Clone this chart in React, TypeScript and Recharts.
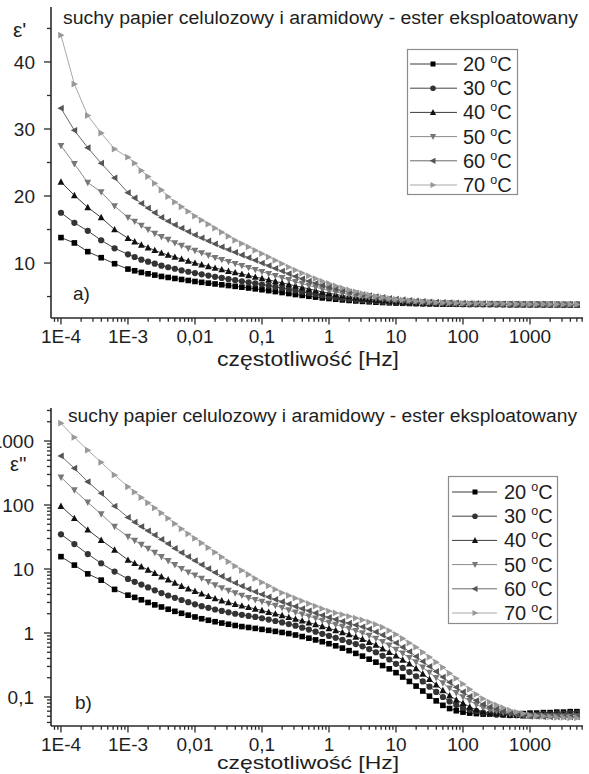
import React from 'react';
import { LineChart, Line, XAxis, YAxis, Legend } from 'recharts';

// ---------------- data ----------------
const freq = [
  0.0001, 0.0001585, 0.0002512, 0.0003981, 0.000631,
  0.001, 0.001259, 0.001585, 0.001995, 0.002512, 0.003162, 0.003981, 0.005012, 0.00631, 0.007943,
  0.01, 0.01259, 0.01585, 0.01995, 0.02512, 0.03162, 0.03981, 0.05012, 0.0631, 0.07943,
  0.1, 0.1259, 0.1585, 0.1995, 0.2512, 0.3162, 0.3981, 0.5012, 0.631, 0.7943,
  1, 1.259, 1.585, 1.995, 2.512, 3.162, 3.981, 5.012, 6.31, 7.943,
  10, 12.59, 15.85, 19.95, 25.12, 31.62, 39.81, 50.12, 63.1, 79.43,
  100, 125.9, 158.5, 199.5, 251.2, 316.2, 398.1, 501.2, 631, 794.3,
  1000, 1259, 1585, 1995, 2512, 3162, 3981, 5012,
];

// epsilon' (real part)
const epsReal20 = [
  13.8, 13.0, 11.7, 10.8, 9.9,
  9.1, 8.85, 8.6, 8.4, 8.2, 8.0, 7.85, 7.7, 7.55, 7.4,
  7.25, 7.12, 7.0, 6.88, 6.76, 6.64, 6.52, 6.4, 6.28, 6.15,
  6.02, 5.88, 5.74, 5.6, 5.45, 5.3, 5.17, 5.04, 4.92, 4.8,
  4.7, 4.6, 4.5, 4.42, 4.35, 4.28, 4.22, 4.16, 4.11, 4.07,
  4.03, 4.0, 3.97, 3.95, 3.93, 3.91, 3.9, 3.88, 3.87, 3.86,
  3.85, 3.84, 3.84, 3.83, 3.83, 3.82, 3.82, 3.81, 3.81, 3.8,
  3.8, 3.8, 3.79, 3.79, 3.79, 3.78, 3.78, 3.78,
];
const epsReal30 = [
  17.5, 16.0, 14.8, 13.4, 12.2,
  11.3, 10.9, 10.5, 10.2, 9.9, 9.6, 9.37, 9.15, 8.9, 8.7,
  8.5, 8.32, 8.13, 7.95, 7.78, 7.6, 7.44, 7.28, 7.12, 6.96,
  6.8, 6.62, 6.44, 6.26, 6.08, 5.9, 5.7, 5.52, 5.34, 5.17,
  5.0, 4.86, 4.74, 4.63, 4.54, 4.45, 4.37, 4.3, 4.23, 4.17,
  4.12, 4.08, 4.04, 4.01, 3.98, 3.95, 3.93, 3.91, 3.9, 3.88,
  3.87, 3.86, 3.85, 3.85, 3.84, 3.84, 3.83, 3.83, 3.82, 3.82,
  3.81, 3.81, 3.8, 3.8, 3.8, 3.79, 3.79, 3.79,
];
const epsReal40 = [
  22.1, 20.1, 18.3, 16.8, 15.0,
  13.7, 13.2, 12.7, 12.3, 11.9, 11.5, 11.2, 10.9, 10.6, 10.3,
  10.0, 9.75, 9.5, 9.26, 9.03, 8.8, 8.58, 8.36, 8.14, 7.92,
  7.7, 7.48, 7.26, 7.04, 6.82, 6.6, 6.37, 6.14, 5.92, 5.7,
  5.5, 5.32, 5.15, 5.0, 4.85, 4.72, 4.61, 4.5, 4.41, 4.33,
  4.25, 4.19, 4.13, 4.08, 4.04, 4.0, 3.98, 3.95, 3.93, 3.91,
  3.9, 3.89, 3.88, 3.87, 3.86, 3.86, 3.85, 3.84, 3.84, 3.83,
  3.83, 3.82, 3.82, 3.81, 3.81, 3.8, 3.8, 3.8,
];
const epsReal50 = [
  27.5, 24.8, 22.0, 20.6, 18.5,
  16.8, 16.2, 15.6, 15.0, 14.4, 13.9, 13.5, 13.0, 12.6, 12.2,
  11.85, 11.5, 11.15, 10.8, 10.5, 10.2, 9.9, 9.6, 9.3, 9.0,
  8.7, 8.4, 8.1, 7.8, 7.5, 7.2, 6.93, 6.66, 6.4, 6.15,
  5.9, 5.68, 5.48, 5.3, 5.14, 5.0, 4.86, 4.74, 4.62, 4.51,
  4.42, 4.34, 4.27, 4.2, 4.14, 4.09, 4.05, 4.01, 3.98, 3.95,
  3.93, 3.92, 3.91, 3.9, 3.89, 3.88, 3.87, 3.86, 3.86, 3.85,
  3.84, 3.84, 3.83, 3.83, 3.82, 3.82, 3.81, 3.81,
];
const epsReal60 = [
  33.1, 29.8, 27.2, 24.9, 22.7,
  20.5, 19.7, 18.9, 18.2, 17.5, 16.8, 16.25, 15.7, 15.2, 14.7,
  14.2, 13.75, 13.3, 12.85, 12.4, 12.0, 11.6, 11.2, 10.8, 10.4,
  10.0, 9.6, 9.2, 8.8, 8.4, 8.0, 7.65, 7.3, 6.98, 6.68,
  6.4, 6.15, 5.92, 5.7, 5.5, 5.3, 5.15, 5.0, 4.87, 4.74,
  4.62, 4.52, 4.43, 4.35, 4.28, 4.22, 4.17, 4.12, 4.08, 4.04,
  4.0, 3.98, 3.96, 3.95, 3.93, 3.92, 3.91, 3.9, 3.89, 3.88,
  3.87, 3.86, 3.85, 3.85, 3.84, 3.83, 3.83, 3.82,
];
const epsReal70 = [
  44.0, 36.7, 32.0, 29.4, 27.0,
  25.8, 24.9, 23.8, 22.9, 21.9, 20.9, 19.9, 19.1, 18.4, 17.7,
  17.0, 16.4, 15.8, 15.2, 14.6, 14.0, 13.4, 12.9, 12.4, 11.9,
  11.4, 10.9, 10.4, 9.9, 9.4, 8.95, 8.5, 8.08, 7.68, 7.3,
  6.95, 6.6, 6.28, 5.98, 5.7, 5.45, 5.23, 5.04, 4.87, 4.72,
  4.6, 4.49, 4.39, 4.31, 4.24, 4.18, 4.13, 4.09, 4.05, 4.02,
  3.99, 3.97, 3.96, 3.94, 3.93, 3.92, 3.91, 3.9, 3.89, 3.88,
  3.87, 3.87, 3.86, 3.85, 3.85, 3.84, 3.84, 3.83,
];

// epsilon'' (imaginary part)
const epsImag20 = [
  15.6, 11.5, 8.4, 6.7, 4.8,
  3.9, 3.6, 3.3, 3.0, 2.75, 2.55, 2.35, 2.18, 2.03, 1.9,
  1.78, 1.67, 1.58, 1.5, 1.43, 1.37, 1.31, 1.26, 1.22, 1.18,
  1.14, 1.1, 1.06, 1.02, 0.98, 0.93, 0.88, 0.83, 0.78, 0.73,
  0.68, 0.63, 0.58, 0.53, 0.48, 0.435, 0.39, 0.35, 0.31, 0.275,
  0.24, 0.205, 0.175, 0.148, 0.124, 0.103, 0.087, 0.074, 0.066, 0.061,
  0.058, 0.056, 0.055, 0.054, 0.054, 0.054, 0.054, 0.055, 0.055, 0.055,
  0.056, 0.056, 0.057, 0.057, 0.058, 0.058, 0.059, 0.059,
];
const epsImag30 = [
  34.8, 24.5, 17.1, 12.3, 9.1,
  7.0, 6.3, 5.7, 5.15, 4.65, 4.2, 3.85, 3.55, 3.28, 3.03,
  2.8, 2.62, 2.47, 2.33, 2.21, 2.1, 2.0, 1.92, 1.85, 1.78,
  1.7, 1.62, 1.54, 1.46, 1.38, 1.3, 1.21, 1.13, 1.05, 0.97,
  0.9, 0.84, 0.78, 0.72, 0.67, 0.62, 0.56, 0.5, 0.44, 0.385,
  0.33, 0.285, 0.245, 0.21, 0.175, 0.145, 0.12, 0.1, 0.085, 0.075,
  0.068, 0.063, 0.06, 0.057, 0.055, 0.053, 0.053, 0.052, 0.052, 0.052,
  0.053, 0.053, 0.054, 0.054, 0.055, 0.055, 0.056, 0.056,
];
const epsImag40 = [
  96, 62, 41, 28.3, 19.9,
  13.8, 12.3, 10.9, 9.7, 8.6, 7.6, 6.8, 6.05, 5.4, 4.9,
  4.5, 4.1, 3.75, 3.45, 3.2, 3.0, 2.82, 2.66, 2.52, 2.38,
  2.25, 2.12, 2.0, 1.88, 1.76, 1.65, 1.55, 1.45, 1.36, 1.27,
  1.18, 1.1, 1.02, 0.95, 0.87, 0.8, 0.72, 0.65, 0.57, 0.5,
  0.44, 0.38, 0.33, 0.28, 0.23, 0.19, 0.155, 0.127, 0.105, 0.09,
  0.08, 0.07, 0.063, 0.059, 0.056, 0.055, 0.053, 0.052, 0.052, 0.051,
  0.051, 0.051, 0.052, 0.052, 0.052, 0.053, 0.053, 0.053,
];
const epsImag50 = [
  271, 171, 110, 72, 46,
  32, 27.8, 24.0, 20.8, 18.0, 15.5, 13.4, 11.6, 10.1, 8.9,
  8.0, 7.1, 6.3, 5.6, 5.05, 4.6, 4.2, 3.85, 3.55, 3.3,
  3.1, 2.88, 2.68, 2.48, 2.28, 2.1, 1.96, 1.83, 1.7, 1.57,
  1.45, 1.35, 1.26, 1.17, 1.08, 1.0, 0.91, 0.82, 0.73, 0.64,
  0.55, 0.48, 0.41, 0.35, 0.29, 0.24, 0.2, 0.165, 0.137, 0.116,
  0.1, 0.087, 0.076, 0.068, 0.063, 0.06, 0.057, 0.055, 0.053, 0.052,
  0.05, 0.05, 0.05, 0.05, 0.05, 0.05, 0.05, 0.05,
];
const epsImag60 = [
  585, 375, 231, 152, 96,
  64, 54, 46, 39.5, 34, 29, 24.8, 21, 18, 15.6,
  13.5, 11.7, 10.1, 8.8, 7.7, 6.8, 6.05, 5.4, 4.85, 4.4,
  4.0, 3.65, 3.35, 3.08, 2.83, 2.6, 2.4, 2.22, 2.05, 1.89,
  1.75, 1.63, 1.52, 1.42, 1.33, 1.25, 1.15, 1.04, 0.93, 0.82,
  0.7, 0.6, 0.51, 0.43, 0.36, 0.3, 0.25, 0.205, 0.17, 0.142,
  0.12, 0.102, 0.088, 0.077, 0.07, 0.065, 0.06, 0.057, 0.054, 0.052,
  0.05, 0.05, 0.049, 0.049, 0.049, 0.049, 0.049, 0.049,
];
const epsImag70 = [
  1900, 1140, 720, 465, 295,
  193, 159, 131, 108, 90, 75, 62, 51, 42.5, 35.5,
  30, 25.5, 21.5, 18.2, 15.4, 13, 11.1, 9.5, 8.2, 7.1,
  6.2, 5.45, 4.8, 4.25, 3.85, 3.5, 3.17, 2.88, 2.63, 2.4,
  2.2, 2.06, 1.94, 1.82, 1.71, 1.6, 1.48, 1.36, 1.23, 1.09,
  0.95, 0.82, 0.7, 0.6, 0.5, 0.42, 0.35, 0.29, 0.235, 0.195,
  0.16, 0.132, 0.11, 0.094, 0.083, 0.075, 0.068, 0.062, 0.058, 0.055,
  0.052, 0.051, 0.05, 0.049, 0.048, 0.048, 0.047, 0.047,
];

const temps = ['20', '30', '40', '50', '60', '70'];
const seriesKeys = ['t20', 't30', 't40', 't50', 't60', 't70'];
const realSeries = [epsReal20, epsReal30, epsReal40, epsReal50, epsReal60, epsReal70];
const imagSeries = [epsImag20, epsImag30, epsImag40, epsImag50, epsImag60, epsImag70];

const xMajorTicks = [1e-4, 1e-3, 0.01, 0.1, 1, 10, 100, 1000];
const xMajorLabels = ['1E-4', '1E-3', '0,01', '0,1', '1', '10', '100', '1000'];
const yTopMajorTicks = [10, 20, 30, 40];
const yTopMajorLabels = ['10', '20', '30', '40'];
const yTopMinorTicks = [5, 15, 25, 35, 45];
const yBotMajorTicks = [0.1, 1, 10, 100, 1000];
const yBotMajorLabels = ['0,1', '1', '10', '100', '1000'];

const titleText = 'suchy papier celulozowy i aramidowy - ester eksploatowany';
const xTitle = 'częstotliwość [Hz]';

// ---------------- styles ----------------
const FONT = '"Liberation Sans", Arial, Helvetica, sans-serif';
const AXIS = '#2a2a2a';
const TEXT = '#1e1e1e';
const lineColors = ['#3a3a3a', '#444444', '#3c3c3c', '#8a8a8a', '#6a6a6a', '#a8a8a8'];
const markerColors = ['#000000', '#333333', '#111111', '#777777', '#555555', '#999999'];
const markerShapes = ['square', 'circle', 'up', 'down', 'left', 'right'];

const xDomain = [7.1e-5, 6180];
const yTopDomain = [1.8, 48.2];
const yBotDomain = [0.0352, 3280];

function logMinors(domain: number[]) {
  const out: number[] = [];
  for (let e = -6; e <= 4; e++) {
    for (let m = 2; m <= 9; m++) {
      const v = m * Math.pow(10, e);
      if (v > domain[0] && v < domain[1]) out.push(v);
    }
  }
  return out;
}
const xTicksAll = [...xMajorTicks, ...logMinors(xDomain)].sort((a, b) => a - b);
const yBotTicksAll = [...yBotMajorTicks, ...logMinors(yBotDomain)].sort((a, b) => a - b);
const yTopTicksAll = [...yTopMajorTicks, ...yTopMinorTicks].sort((a, b) => a - b);

const realData = freq.map((f, i) => {
  const row: any = { f };
  seriesKeys.forEach((k, s) => (row[k] = realSeries[s][i]));
  return row;
});
const imagData = freq.map((f, i) => {
  const row: any = { f };
  seriesKeys.forEach((k, s) => (row[k] = imagSeries[s][i]));
  return row;
});

function findMajor(v: number, majors: number[]) {
  return majors.findIndex((m) => Math.abs(v - m) / Math.abs(m) < 1e-6);
}

function Marker({ shape, cx, cy, color, s = 5.6 }: any) {
  if (cx == null || cy == null || isNaN(cx) || isNaN(cy)) return null;
  const h = s / 2;
  switch (shape) {
    case 'square':
      return <rect x={cx - h} y={cy - h} width={s} height={s} fill={color} />;
    case 'circle':
      return <circle cx={cx} cy={cy} r={h + 0.3} fill={color} />;
    case 'up':
      return <polygon points={`${cx},${cy - h - 0.8} ${cx - h - 0.6},${cy + h} ${cx + h + 0.6},${cy + h}`} fill={color} />;
    case 'down':
      return <polygon points={`${cx},${cy + h + 0.8} ${cx - h - 0.6},${cy - h} ${cx + h + 0.6},${cy - h}`} fill={color} />;
    case 'left':
      return <polygon points={`${cx - h - 0.8},${cy} ${cx + h},${cy - h - 0.6} ${cx + h},${cy + h + 0.6}`} fill={color} />;
    case 'right':
      return <polygon points={`${cx + h + 0.8},${cy} ${cx - h},${cy - h - 0.6} ${cx - h},${cy + h + 0.6}`} fill={color} />;
    default:
      return null;
  }
}

function XTick(props: any) {
  const { x, y, payload } = props;
  const idx = findMajor(payload.value, xMajorTicks);
  const major = idx >= 0;
  return (
    <g>
      <line x1={x} x2={x} y1={y} y2={y + (major ? 6.5 : 3.8)} stroke={AXIS} strokeWidth={1.3} />
      {major && (
        <text x={x} y={y + 25} textAnchor="middle" fontSize={19} fontFamily={FONT} fill={TEXT}>
          {xMajorLabels[idx]}
        </text>
      )}
    </g>
  );
}

function makeYTick(majors: number[], labels: string[], labelGap: number) {
  return function YTick(props: any) {
    const { x, y, payload } = props;
    const idx = findMajor(payload.value, majors);
    const major = idx >= 0;
    return (
      <g>
        <line x1={x - (major ? 7 : 4)} x2={x} y1={y} y2={y} stroke={AXIS} strokeWidth={1.3} />
        {major && (
          <text x={x - labelGap} y={y + 7} textAnchor="end" fontSize={19} fontFamily={FONT} fill={TEXT}>
            {labels[idx]}
          </text>
        )}
      </g>
    );
  };
}
const YTopTick = makeYTick(yTopMajorTicks, yTopMajorLabels, 16);
const YBotTick = makeYTick(yBotMajorTicks, yBotMajorLabels, 17);

function makeLegend(box: any) {
  return function LegendBox() {
    return (
      <svg width={box.w} height={box.h} style={{ display: 'block', overflow: 'visible' }}>
        <rect x={0.5} y={0.5} width={box.w - 1} height={box.h - 1} fill="#fff" stroke="#8c8c8c" strokeWidth={1.2} />
        {temps.map((t, i) => {
          const y = box.row0 + i * box.dy;
          return (
            <g key={t}>
              <line x1={box.lx1} x2={box.lx2} y1={y} y2={y} stroke={lineColors[i]} strokeWidth={1} />
              <Marker shape={markerShapes[i]} cx={box.mx} cy={y} color={markerColors[i]} s={5} />
              <text x={box.tx} y={y + 7} fontSize={20} fontFamily={FONT} fill={TEXT}>
                {t}
                <tspan dx={5} dy={-8} fontSize={12.5}>o</tspan>
                <tspan dy={8}>C</tspan>
              </text>
            </g>
          );
        })}
      </svg>
    );
  };
}
const TopLegend = makeLegend({ w: 111, h: 146, row0: 15, dy: 24.2, lx1: 3, lx2: 50, mx: 26, tx: 56 });
const BotLegend = makeLegend({ w: 110, h: 148, row0: 16, dy: 24.2, lx1: 4, lx2: 49, mx: 27, tx: 56 });

function renderLines() {
  return seriesKeys.map((k, i) => (
    <Line
      key={k}
      dataKey={k}
      type="linear"
      stroke={lineColors[i]}
      strokeWidth={1}
      isAnimationActive={false}
      legendType="none"
      dot={(p: any) => (
        <Marker key={`${k}-${p.index}`} shape={markerShapes[i]} cx={p.cx} cy={p.cy} color={markerColors[i]} />
      )}
      activeDot={false}
    />
  ));
}

export default function App() {
  return (
    <div style={{ position: 'absolute', left: 0, top: 0, width: 589, height: 774, background: '#fff', overflow: 'hidden' }}>
      <div style={{ position: 'absolute', left: 0, top: 0 }}>
        <LineChart width={589} height={370} data={realData} margin={{ top: 7, right: 6, bottom: 0, left: 0 }}>
          <XAxis
            dataKey="f"
            type="number"
            scale="log"
            domain={xDomain}
            allowDataOverflow
            ticks={xTicksAll}
            interval={0}
            tick={XTick}
            tickLine={false}
            tickSize={0}
            tickMargin={0}
            height={52}
            axisLine={{ stroke: AXIS, strokeWidth: 1.6 }}
          />
          <YAxis
            type="number"
            domain={yTopDomain}
            allowDataOverflow
            ticks={yTopTicksAll}
            interval={0}
            tick={YTopTick}
            tickLine={false}
            tickSize={0}
            tickMargin={0}
            width={51}
            axisLine={{ stroke: AXIS, strokeWidth: 1.6 }}
          />
          {renderLines()}
          <Legend
            layout="vertical"
            align="center"
            verticalAlign="middle"
            content={TopLegend}
            wrapperStyle={{ position: 'absolute', left: 407, top: 49, width: 111, height: 146 }}
          />
        </LineChart>
      </div>
      <div style={{ position: 'absolute', left: 0, top: 370 }}>
        <LineChart width={589} height={404} data={imagData} margin={{ top: 38, right: 6, bottom: 0, left: 0 }}>
          <XAxis
            dataKey="f"
            type="number"
            scale="log"
            domain={xDomain}
            allowDataOverflow
            ticks={xTicksAll}
            interval={0}
            tick={XTick}
            tickLine={false}
            tickSize={0}
            tickMargin={0}
            height={48}
            axisLine={{ stroke: AXIS, strokeWidth: 1.6 }}
          />
          <YAxis
            type="number"
            scale="log"
            domain={yBotDomain}
            allowDataOverflow
            ticks={yBotTicksAll}
            interval={0}
            tick={YBotTick}
            tickLine={false}
            tickSize={0}
            tickMargin={0}
            width={51}
            axisLine={{ stroke: AXIS, strokeWidth: 1.6 }}
          />
          {renderLines()}
          <Legend
            layout="vertical"
            align="center"
            verticalAlign="middle"
            content={BotLegend}
            wrapperStyle={{ position: 'absolute', left: 448, top: 106, width: 110, height: 148 }}
          />
        </LineChart>
      </div>
      <svg
        width={589}
        height={774}
        style={{ position: 'absolute', left: 0, top: 0, pointerEvents: 'none' }}
        fontFamily={FONT}
        fill={TEXT}
      >
        <text x={63} y={24} fontSize={18} textLength={515} lengthAdjust="spacingAndGlyphs">{titleText}</text>
        <text x={13} y={37} fontSize={21}>ε'</text>
        <text x={73} y={300} fontSize={19}>a)</text>
        <text x={217} y={366} fontSize={20} textLength={182} lengthAdjust="spacingAndGlyphs">{xTitle}</text>
        <text x={68} y={422} fontSize={18} textLength={509} lengthAdjust="spacingAndGlyphs">{titleText}</text>
        <text x={10} y={471} fontSize={20}>ε''</text>
        <text x={75} y={709} fontSize={19}>b)</text>
        <text x={217} y={769} fontSize={19} textLength={182} lengthAdjust="spacingAndGlyphs">{xTitle}</text>
      </svg>
    </div>
  );
}
